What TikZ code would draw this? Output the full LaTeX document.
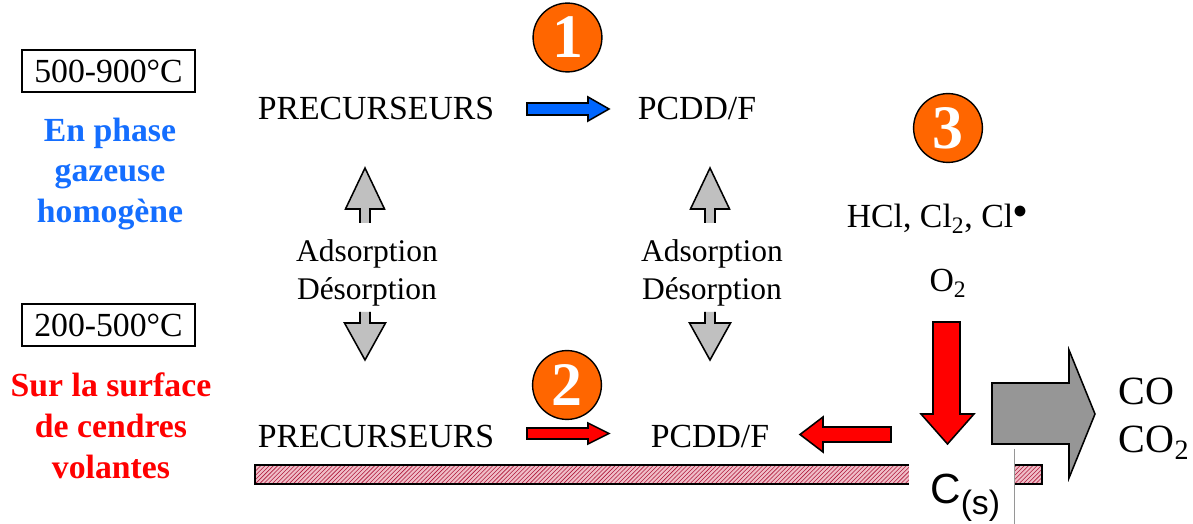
\documentclass[tikz,border=0pt]{standalone}
\usepackage{fontspec}
\setmainfont{Liberation Serif}
\newfontfamily\arialf{Liberation Sans}
\usetikzlibrary{patterns}

\definecolor{orangeN}{RGB}{255,102,0}
\definecolor{bleuT}{RGB}{20,110,255}
\definecolor{bleuF}{RGB}{0,102,255}
\definecolor{grisC}{RGB}{192,192,192}
\definecolor{grisF}{RGB}{150,150,150}
\definecolor{rougeH}{RGB}{175,25,60}
\definecolor{roseP}{RGB}{240,190,200}

\tikzset{
	temp/.style={draw, line width=1pt, minimum width=4.325cm, minimum height=1.05cm},
	legende/.style={align=center, font=\fontsize{24}{29}\selectfont\bfseries},
	echange/.style={anchor=base, font=\fontsize{22.4}{27}\selectfont},
	fleche/.style={draw=black, line width=1.1pt, line join=miter},
	numero/.style={circle, draw, line width=1pt, fill=orangeN, text=white, minimum size=1.72cm, inner sep=0pt, font=\fontsize{44}{44}\selectfont\bfseries}
}

\begin{document}
\begin{tikzpicture}[x=0.025cm, y=-0.025cm, every node/.style={font=\fontsize{24}{29}\selectfont}]
		\useasboundingbox (0,0) rectangle (1193,524);
		
		% temperatures et phases
		\node[temp] (t1) at (108.5,71) {500-900°C};
		\node[temp] (t2) at (108.5,325) {200-500°C};
		\node[legende, text=bleuT] (gaz) at (110,174) {En phase\\gazeuse\\homogène};
		\node[legende, text=red] (surf) at (111,426) {Sur la surface\\de cendres\\volantes};
		
		% surface des cendres
		\fill[roseP] (255,465) rectangle (1042,484);
		\fill[pattern=north east lines, pattern color=rougeH] (255,465) rectangle (1042,484);
		\draw[line width=1.2pt] (255,465) rectangle (1042,484);
		\fill[white] (909,455) rectangle (1014,524);
		\draw[grisF, line width=0.6pt] (1014,449) -- (1014,524);
		
		\node[anchor=base] (prec1) at (376,120) {PRECURSEURS};
		\node[anchor=base] (pcdd1) at (697,120) {PCDD/F};
		\node[anchor=base] (prec2) at (376,448) {PRECURSEURS};
		\node[anchor=base] (pcdd2) at (710,448) {PCDD/F};
		
		\node[echange] (ads1) at (367,262) {Adsorption};
		\node[echange] (des1) at (367,300) {Désorption};
		\node[echange] (ads2) at (712,262) {Adsorption};
		\node[echange] (des2) at (712,300) {Désorption};
		
		\node[anchor=base] (hcl) at (937,228) {HCl, Cl\textsubscript{2}, Cl\raisebox{7pt}{\scalebox{0.8}{$\bullet$}}};
		\node[anchor=base] (o2) at (948,292) {O\textsubscript{2}};
		\node[anchor=base west, font=\fontsize{28.5}{34}\selectfont] (co) at (1114,405) {CO};
		\node[anchor=base west, font=\fontsize{28.5}{34}\selectfont] (co2) at (1114,453) {CO\textsubscript{2}};
		\node[anchor=base west, inner sep=0pt] (cs) at (930,503) {\arialf\fontsize{30}{30}\selectfont C\raisebox{-8pt}{\fontsize{24}{24}\selectfont (s)}};
		
		\node[numero] (n1) at (567.5,37.5) {1};
		\node[numero] (n2) at (567,385) {2};
		\node[numero] (n3) at (948,128) {3};
		
		% fleches de reaction
		\draw[fleche, fill=bleuF] (527,103) -- (588,103) -- (588,97) -- (609,109) -- (588,121) -- (588,115) -- (527,115) -- cycle;
		\draw[fleche, fill=red] (527,428) -- (588,428) -- (588,423) -- (609,433.5) -- (588,444) -- (588,439) -- (527,439) -- cycle;
		\draw[fleche, fill=red] (891,427) -- (823,427) -- (823,417) -- (800,434.5) -- (823,452) -- (823,442) -- (891,442) -- cycle;
		\draw[fleche, fill=red] (933,322) -- (960,322) -- (960,414) -- (974,414) -- (947.5,444) -- (921,414) -- (933,414) -- cycle;
		\draw[fleche, fill=grisF] (992,383) -- (1069,383) -- (1069,350) -- (1095,414) -- (1069,478) -- (1069,444) -- (992,444) -- cycle;
		
		% adsorption / desorption
		\draw[fleche, fill=grisC] (360,223) -- (360,209) -- (345.5,209) -- (365,168) -- (384.5,209) -- (370,209) -- (370,223);
		\draw[fleche, fill=grisC] (360,312) -- (360,323) -- (344.5,323) -- (365,360) -- (385.5,323) -- (370,323) -- (370,312);
		\draw[fleche, fill=grisC] (705,223) -- (705,209) -- (690.5,209) -- (710,168) -- (729.5,209) -- (715,209) -- (715,223);
		\draw[fleche, fill=grisC] (705,312) -- (705,323) -- (689.5,323) -- (710,360) -- (730.5,323) -- (715,323) -- (715,312);
\end{tikzpicture}
\end{document}
